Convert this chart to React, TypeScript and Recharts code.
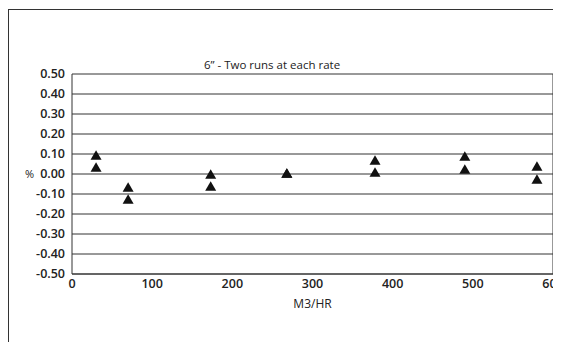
import React from 'react';
import { ScatterChart, Scatter, XAxis, YAxis, CartesianGrid, ReferenceLine, Label } from 'recharts';

// two runs at each flow rate
const flowRates = [30, 30, 70, 70, 173, 173, 268, 268, 378, 378, 490, 490, 580, 580];
const errorPct = [0.095, 0.035, -0.065, -0.125, 0.0, -0.06, 0.005, 0.005, 0.07, 0.01, 0.09, 0.025, 0.04, -0.025];
const yTicks = [-0.5, -0.4, -0.3, -0.2, -0.1, 0, 0.1, 0.2, 0.3, 0.4, 0.5];
const xTicks = [0, 100, 200, 300, 400, 500, 600];

const data = flowRates.map((x, i) => ({ x, y: errorPct[i] }));

const FONT = '"Open Sans", "Noto Sans", sans-serif';

const Triangle = (props: any) => {
  const { cx, cy } = props;
  if (cx == null || cy == null) return null;
  const w = 11;
  const h = 9.5;
  return (
    <polygon
      points={`${cx},${cy - h / 2} ${cx + w / 2},${cy + h / 2} ${cx - w / 2},${cy + h / 2}`}
      fill="#111"
    />
  );
};

export default function App() {
  return (
    <div
      style={{
        position: 'relative',
        width: 553,
        height: 334,
        marginTop: 1,
        borderTop: '1px solid #333',
        borderLeft: '1px solid #333',
        overflow: 'hidden',
        fontFamily: FONT,
        background: '#fff',
      }}
    >
      <div
        style={{
          position: 'absolute',
          left: 0,
          width: 526,
          top: 47,
          textAlign: 'center',
          fontSize: 11.5,
          color: '#222',
        }}
      >
        6” - Two runs at each rate
      </div>
      <div style={{ position: 'absolute', left: 16, top: 156, fontSize: 11, color: '#222' }}>%</div>
      <ScatterChart
        width={580}
        height={330}
        margin={{ top: 64, right: 36, bottom: 26, left: 0 }}
        style={{ fontFamily: FONT }}
      >
        <CartesianGrid vertical={false} stroke="#333" strokeWidth={1} />
        <XAxis
          type="number"
          dataKey="x"
          domain={[0, 600]}
          ticks={xTicks}
          interval={0}
          height={40}
          tickSize={0}
          tickMargin={5}
          stroke="#333"
          tick={{ fontSize: 12.5, fill: '#222', fontWeight: 600 }}
        >
          <Label value="M3/HR" position="insideBottom" offset={6} style={{ fontSize: 12, fill: '#222', fontWeight: 500 }} />
        </XAxis>
        <YAxis
          type="number"
          dataKey="y"
          domain={[-0.5, 0.5]}
          ticks={yTicks}
          interval={0}
          width={63}
          tickSize={0}
          tickMargin={7}
          stroke="#333"
          tickFormatter={(v: number) => v.toFixed(2)}
          tick={{ fontSize: 12.5, fill: '#222', fontWeight: 600 }}
        />
        <ReferenceLine x={600} stroke="#333" />
        <Scatter data={data} shape={<Triangle />} isAnimationActive={false} />
      </ScatterChart>
    </div>
  );
}
